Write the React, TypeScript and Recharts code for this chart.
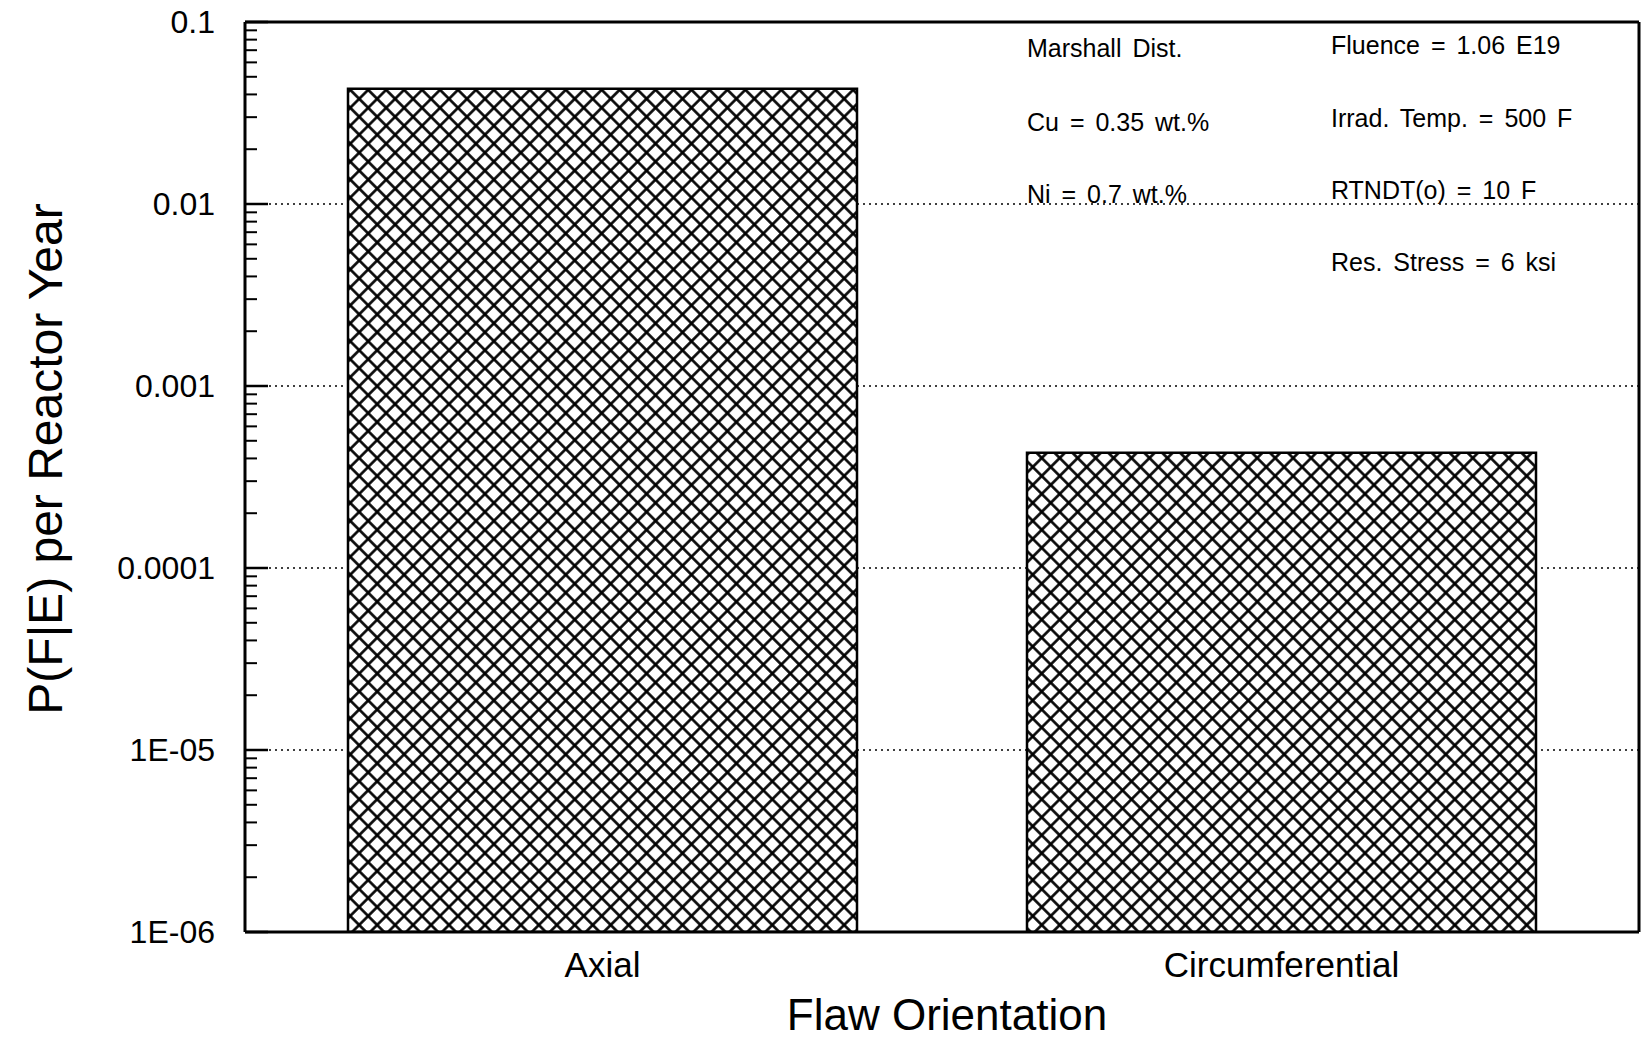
import React from 'react';
import { BarChart, Bar, XAxis, YAxis, CartesianGrid, Label } from 'recharts';

const categories = ['Axial', 'Circumferential'];
const failureProb = [0.043, 0.00043];

const yTicks = [1e-6, 1e-5, 0.0001, 0.001, 0.01, 0.1];
const yTickLabels = ['1E-06', '1E-05', '0.0001', '0.001', '0.01', '0.1'];
const minorSteps = [2, 3, 4, 5, 6, 7, 8, 9];

const notesLeft = ['Marshall Dist.', 'Cu = 0.35 wt.%', 'Ni = 0.7 wt.%'];
const notesRight = ['Fluence = 1.06 E19', 'Irrad. Temp. = 500 F', 'RTNDT(o) = 10 F', 'Res. Stress = 6 ksi'];

const data = categories.map((name, i) => ({ name, value: failureProb[i] }));
// log minor ticks 2..9 inside each decade
const minorTicks = yTicks.slice(0, -1).flatMap((d) => minorSteps.map((m) => Number((m * d).toPrecision(3))));

const FONT = '"Liberation Sans", Arial, Helvetica, sans-serif';
const AXIS = { stroke: '#000', strokeWidth: 3 };
const HATCH = 12.7;

const fmtY = (v: number) => {
  const i = yTicks.findIndex((t) => Math.abs(Math.log10(t) - Math.log10(v)) < 1e-6);
  return i >= 0 ? yTickLabels[i] : '';
};

const logAxis = {
  type: 'number' as const,
  scale: 'log' as const,
  domain: [1e-6, 0.1],
  allowDataOverflow: true,
  interval: 0 as const,
};

const NoLabel = () => <g />;

export default function App() {
  return (
    <div style={{ position: 'absolute', left: 0, top: 0, background: '#fff', fontFamily: FONT }}>
      <BarChart
        width={1643}
        height={1038}
        data={data}
        margin={{ top: 21, right: 3, bottom: 0, left: 0 }}
        barSize={509}
      >
        <defs>
          <pattern id="xhatch" width={HATCH} height={HATCH} patternUnits="userSpaceOnUse" patternTransform="rotate(45)">
            <rect width={HATCH} height={HATCH} fill="#fff" />
            <line x1={0} y1={HATCH / 2} x2={HATCH} y2={HATCH / 2} stroke="#000" strokeWidth={2.6} />
            <line x1={HATCH / 2} y1={0} x2={HATCH / 2} y2={HATCH} stroke="#000" strokeWidth={2.6} />
          </pattern>
        </defs>
        <CartesianGrid
          xAxisId="main"
          yAxisId="main"
          vertical={false}
          stroke="#000"
          strokeDasharray="2 4"
          strokeWidth={1.5}
        />
        <XAxis
          xAxisId="main"
          dataKey="name"
          height={106}
          padding={{ left: 18, right: 18 }}
          tickLine={false}
          tickSize={0}
          tickMargin={20}
          axisLine={AXIS}
          tick={{ fill: '#000', fontSize: 35, fontFamily: FONT }}
        >
          <Label
            content={({ viewBox }: any) => (
              <text
                x={viewBox.x + viewBox.width / 2 + 5}
                y={viewBox.y + 98}
                textAnchor="middle"
                fontSize={44}
                fontFamily={FONT}
                fill="#000"
              >
                Flaw Orientation
              </text>
            )}
          />
        </XAxis>
        <XAxis xAxisId="top" orientation="top" dataKey="name" height={1} tick={false} tickLine={false} axisLine={AXIS} />
        <YAxis
          yAxisId="main"
          {...logAxis}
          ticks={yTicks}
          width={245}
          tickSize={0}
          tickMargin={30}
          tickLine={false}
          axisLine={AXIS}
          tickFormatter={fmtY}
          tick={{ fill: '#000', fontSize: 32, fontFamily: FONT }}
        >
          <Label
            content={({ viewBox }: any) => (
              <text
                transform={`translate(${viewBox.x + 62}, ${viewBox.y + viewBox.height / 2 - 18}) rotate(-90)`}
                textAnchor="middle"
                fontSize={48}
                fontFamily={FONT}
                fill="#000"
              >
                P(F|E) per Reactor Year
              </text>
            )}
          />
        </YAxis>
        <YAxis
          yAxisId="minor"
          {...logAxis}
          ticks={minorTicks}
          mirror
          width={1}
          tick={NoLabel}
          tickSize={11}
          tickLine={{ stroke: '#000', strokeWidth: 2 }}
          axisLine={false}
        />
        <YAxis
          yAxisId="major"
          {...logAxis}
          ticks={yTicks}
          mirror
          width={1}
          tick={NoLabel}
          tickSize={23}
          tickLine={{ stroke: '#000', strokeWidth: 2.5 }}
          axisLine={false}
        />
        <YAxis
          yAxisId="frame"
          orientation="right"
          {...logAxis}
          width={1}
          tick={false}
          tickLine={false}
          axisLine={AXIS}
        />
        <Bar
          xAxisId="main"
          yAxisId="main"
          dataKey="value"
          fill="url(#xhatch)"
          stroke="#000"
          strokeWidth={2.5}
          isAnimationActive={false}
        />
        {notesLeft.map((t, i) => (
          <text key={t} x={1027} y={[57, 131, 203][i]} fontSize={25} wordSpacing={4} fontFamily={FONT} fill="#000">
            {t}
          </text>
        ))}
        {notesRight.map((t, i) => (
          <text key={t} x={1331} y={[54, 127, 199, 271][i]} fontSize={25} wordSpacing={4} fontFamily={FONT} fill="#000">
            {t}
          </text>
        ))}
      </BarChart>
    </div>
  );
}
